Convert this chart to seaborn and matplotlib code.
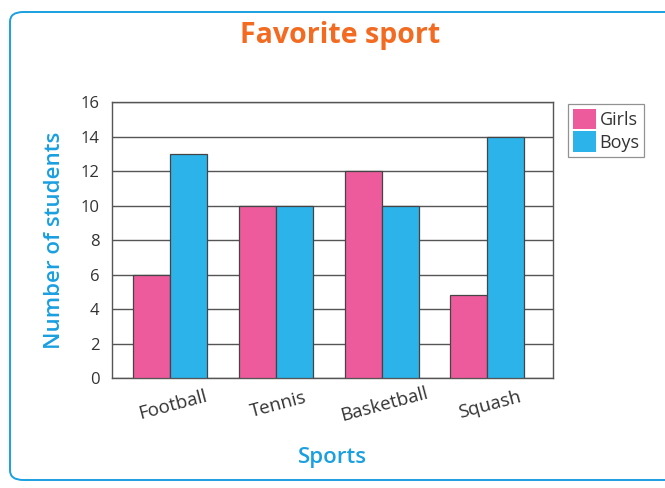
import matplotlib
matplotlib.use("Agg")
import matplotlib.pyplot as plt
from matplotlib.patches import FancyBboxPatch, Patch
import seaborn as sns
import pandas as pd

sports = ["Football", "Tennis", "Basketball", "Squash"]
girls = [6, 10, 12, 4.8]
boys = [13, 10, 10, 14]
y_ticks = [0, 2, 4, 6, 8, 10, 12, 14, 16]

PINK = "#ee5b9d"
BLUE = "#2bb3ea"
ORANGE = "#f26b21"
LABEL_BLUE = "#1a9fe0"

df = pd.DataFrame({
    "Sports": sports * 2,
    "Students": girls + boys,
    "Group": ["Girls"] * len(sports) + ["Boys"] * len(sports),
})

sns.set_theme(style="white")
plt.rcParams["font.family"] = ["Open Sans", "DejaVu Sans"]

W, H = 665, 488
fig = plt.figure(figsize=(W / 100, H / 100), dpi=100)
fig.patch.set_facecolor("white")

# rounded panel border
frame = FancyBboxPatch((10 / W, 8 / H), 700 / W, 468 / H,
                       boxstyle="round,pad=0,rounding_size=0.02",
                       transform=fig.transFigure, facecolor="none",
                       edgecolor=LABEL_BLUE, linewidth=1.4, zorder=-1)
fig.patches.append(frame)

ax = fig.add_axes([112 / W, 1 - 378 / H, (553 - 112) / W, (378 - 102) / H])
ax.set_facecolor("white")

sns.barplot(data=df, x="Sports", y="Students", hue="Group",
            palette={"Girls": PINK, "Boys": BLUE}, width=0.7, gap=0,
            edgecolor="#444444", linewidth=0.9, saturation=1,
            errorbar=None, ax=ax, legend=False, zorder=3)

ax.set_ylim(0, 16)
ax.set_xlim(-0.55, 3.62)
ax.set_yticks(y_ticks)
ax.set_yticklabels([str(t) for t in y_ticks], fontsize=12, color="#333333")
ax.yaxis.grid(True, color="#555555", linewidth=1.0, zorder=0)
ax.set_axisbelow(True)
for s in ax.spines.values():
    s.set_color("#555555")
    s.set_linewidth(1.0)
ax.tick_params(axis="y", length=0, pad=9)
ax.tick_params(axis="x", length=0, pad=6)
ax.set_xticks(range(len(sports)))
ax.set_xticklabels(sports, rotation=15, fontsize=13.5, color="#333333",
                   ha="center", rotation_mode="anchor")
for lbl in ax.get_xticklabels():
    lbl.set_y(-0.035)

ax.set_xlabel("Sports", fontsize=16, color=LABEL_BLUE, fontweight="semibold",
              labelpad=16)
ax.set_ylabel("Number of students", fontsize=16, color=LABEL_BLUE,
              fontweight="semibold", labelpad=11)

fig.text(340 / W, 1 - 36 / H, "Favorite sport",
         ha="center", va="center", fontsize=20.5, fontweight="bold",
         color=ORANGE)

handles = [Patch(facecolor=PINK, edgecolor="none", label="Girls"),
           Patch(facecolor=BLUE, edgecolor="none", label="Boys")]
leg = fig.legend(handles=handles, loc="upper left",
                 bbox_to_anchor=(568 / W, 1 - 104 / H), frameon=True,
                 fontsize=13, handlelength=1.3, handleheight=1.4,
                 handletextpad=0.2, borderpad=0.25, labelspacing=0.1,
                 borderaxespad=0, fancybox=False)
leg.get_frame().set_edgecolor("#777777")
leg.get_frame().set_linewidth(0.9)
for t in leg.get_texts():
    t.set_color("#333333")

fig.savefig("out.png", dpi=100, facecolor="white")
